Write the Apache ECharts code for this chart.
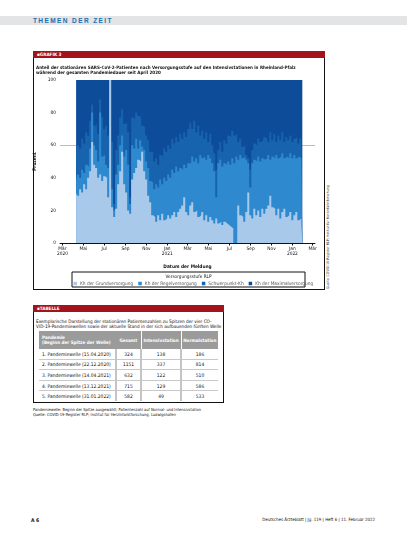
<!DOCTYPE html>
<html>
<head>
<meta charset="utf-8">
<script src="https://cdn.jsdelivr.net/npm/echarts@6/dist/echarts.min.js"></script>
<style>
  html, body { margin: 0; padding: 0; background: #fff; }
  body { width: 407px; height: 551px; position: relative; overflow: hidden;
         font-family: "Liberation Sans Narrow", "DejaVu Sans Condensed", "Liberation Sans", sans-serif; color: #111; }
  .abs { position: absolute; }
  #head { left: 0; top: 16px; width: 407px; height: 9px; background: #e3e4e6; }
  #head span { position: absolute; left: 33px; top: 0; line-height: 9px; font-size: 6.5px; font-weight: bold;
               color: #1d6fae; letter-spacing: 1.4px; font-family: "Liberation Sans", sans-serif; }
  .box { border: 1.2px solid #111; box-sizing: border-box; }
  .bar { position: absolute; left: -1px; top: -1px; right: -1px; height: 7px; background: #a3131b; color: #fff;
         font-size: 4.6px; font-weight: bold; line-height: 7px; padding-left: 4px; }
  #grafik { left: 33px; top: 51px; width: 292px; height: 239px; }
  #credit { left: 326px; top: 289px; width: 96px; font-size: 3.6px; color: #333; white-space: nowrap;
            transform-origin: 0 0; transform: rotate(-90deg); line-height: 4px; }
  #chart { left: 0; top: 0; width: 407px; height: 551px; z-index: 2; }
  #tabelle { left: 33px; top: 305px; width: 191px; height: 98px; }
  #tdesc { left: 2px; top: 12.5px; font-size: 4.7px; line-height: 5.3px; white-space: nowrap; }
  table { position: absolute; left: 5px; top: 25px; width: 179px; border-collapse: collapse; table-layout: fixed;
          font-size: 4.9px; white-space: nowrap; }
  th { background: #9b9b9b; color: #fff; font-weight: bold; height: 18px; padding: 0; text-align: center;
       font-size: 4.6px; overflow: hidden; }
  th.first { text-align: left; padding-left: 3px; line-height: 5px; }
  th.sep { border-left: 1.5px solid #fff; }
  td { height: 9.6px; padding: 0; text-align: center; border-bottom: 1px solid #c9c9c9; overflow: hidden; }
  td.first { text-align: left; padding-left: 3px; }
  td.sep { border-left: 2px solid #c4c4c4; }
  tr:last-child td { border-bottom: none; }
  .note { left: 33px; font-size: 4px; white-space: nowrap; }
  .foot { top: 517px; font-size: 5px; font-weight: bold; white-space: nowrap; }
</style>
</head>
<body>
<div id="head" class="abs"><span>THEMEN DER ZEIT</span></div>
<div id="grafik" class="abs box"><div class="bar">&#9642;GRAFIK 3</div></div>
<div id="credit" class="abs">Quelle: COVID-19-Register RLP; Institut für Herzinfarktforschung</div>
<div id="tabelle" class="abs box">
  <div class="bar">&#9642;TABELLE</div>
  <div id="tdesc" class="abs">Exemplarische Darstellung der stationären Patientenzahlen zu Spitzen der vier CO-<br>VID-19-Pandemiewellen sowie der aktuelle Stand in der sich aufbauenden fünften Welle</div>
  <table id="tab"></table>
</div>
<div class="abs note" style="top:406.5px">Pandemiewelle: Beginn der Spitze ausgewählt; Patientenzahl auf Normal- und Intensivstation</div>
<div class="abs note" style="top:411.5px">Quelle: COVID-19-Register RLP; Institut für Herzinfarktforschung, Ludwigshafen</div>
<div class="abs foot" style="left:31px">A 6</div>
<div class="abs foot" style="right:32px; font-weight:normal; font-size:4.4px">Deutsches Ärzteblatt | Jg. 119 | Heft 6 | 11. Februar 2022</div>
<div id="chart" class="abs"></div>
<script>
// Meldezeitraum (gleichmäßig verteilte Stichtage)
const firstDay = '2020-04-10';
const lastDay = '2022-01-30';

// obere Grenze der Bänder in Prozent (kumuliert von unten)
const grundTop = [
  31, 29, 33, 31, 36, 33, 40, 44, 62, 48, 46, 40, 42, 38, 41, 40, 28, 100, 22, 16,
  21, 36, 44, 56, 36, 31, 20, 18, 39, 43, 46, 51, 50, 56, 44, 39, 29, 25, 17, 16,
  13, 17, 14, 18, 14, 15, 17, 15, 17, 19, 16, 19, 21, 23, 28, 19, 17,
  23, 25, 19, 20, 16, 17, 19, 14, 17, 13, 16, 14, 12, 15, 12, 13, 11, 13, 12, 11,
  10, 9, 0, 0, 23, 17, 16, 13, 19, 31, 17, 15, 21, 17, 20, 16, 21, 18, 21, 23,
  29, 22, 21, 17, 21, 15, 19, 21, 16, 17, 19, 14, 17, 19, 14, 15, 12
];
const regelTop = [
  38, 42, 40, 45, 43, 48, 47, 58, 80, 60, 57, 50, 80, 53, 54, 48, 46, 100, 33, 20,
  42, 48, 60, 66, 53, 57, 48, 24, 60, 58, 64, 58, 63, 59, 57, 50, 46, 38, 37, 33,
  36, 34, 39, 36, 40, 38, 42, 40, 45, 43, 47, 44, 46, 45, 48, 46, 49,
  49, 53, 50, 52, 49, 54, 52, 53, 51, 54, 52, 49, 44, 28, 49, 51, 47, 49, 48, 50,
  48, 52, 49, 53, 51, 54, 52, 53, 51, 49, 34, 49, 51, 50, 53, 50, 52, 51, 52, 54,
  51, 53, 52, 54, 52, 53, 55, 52, 53, 52, 55, 52, 54, 52, 53, 52, 54
];
const schwerpunktTop = [
  55, 60, 58, 64, 61, 68, 66, 75, 85, 72, 73, 67, 88, 77, 70, 72, 66, 100, 62, 24,
  57, 66, 77, 82, 73, 74, 68, 28, 77, 76, 80, 78, 77, 72, 71, 66, 63, 56, 56, 50,
  52, 48, 54, 53, 58, 56, 60, 58, 64, 61, 65, 62, 67, 64, 68, 65, 70,
  74, 70, 75, 68, 72, 66, 69, 64, 68, 62, 67, 60, 55, 45, 57, 62, 56, 63, 61, 66,
  65, 69, 66, 67, 62, 64, 59, 60, 54, 52, 45, 57, 61, 60, 64, 62, 63, 65, 64, 62,
  68, 63, 67, 62, 66, 63, 68, 62, 65, 63, 66, 62, 64, 65, 61, 64, 63
];

const tickDays = ['2020-03-01', '2020-05-01', '2020-07-01', '2020-09-01', '2020-11-01', '2021-01-01',
  '2021-03-01', '2021-05-01', '2021-07-01', '2021-09-01', '2021-11-01', '2022-01-01', '2022-03-01'];
const monthNames = ['Jan', 'Feb', 'Mär', 'Apr', 'Mai', 'Jun', 'Jul', 'Aug', 'Sep', 'Okt', 'Nov', 'Dez'];

const legendNames = ['Kh der Grundversorgung', 'Kh der Regelversorgung', 'Schwerpunkt-Kh', 'Kh der Maximalversorgung'];
const bandColors = ['#a9c9ea', '#2f89cf', '#1763ae', '#0c4c98'];

// Tabelle
const waveNames = ['1. Pandemiewelle (15.04.2020)', '2. Pandemiewelle (22.12.2020)', '3. Pandemiewelle (14.04.2021)',
  '4. Pandemiewelle (13.12.2021)', '5. Pandemiewelle (31.01.2022)'];
const totalPatients = [324, 1151, 632, 715, 582];
const icuPatients = [138, 337, 122, 129, 49];
const wardPatients = [186, 814, 510, 586, 533];

// x-Achse in Tagen ab 1. März 2020
const DAY = 86400000;
const origin = Date.UTC(2020, 2, 1);
const toDay = s => (new Date(s + 'T00:00:00Z').getTime() - origin) / DAY;

let html = '<colgroup><col style="width:77px"><col style="width:25px"><col style="width:40px"><col style="width:37px"></colgroup>' +
  '<tr><th class="first">Pandemie<br>(Beginn der Spitze der Welle)</th><th>Gesamt</th>' +
  '<th class="sep">Intensivstation</th><th class="sep">Normalstation</th></tr>';
waveNames.forEach((w, i) => {
  html += '<tr><td class="first">' + w + '</td><td class="sep">' + totalPatients[i] +
    '</td><td class="sep">' + icuPatients[i] + '</td><td class="sep">' + wardPatients[i] + '</td></tr>';
});
document.getElementById('tab').innerHTML = html;

const d0 = toDay(firstDay);
const stepDays = (toDay(lastDay) - d0) / (grundTop.length - 1);
const days = grundTop.map((v, i) => d0 + i * stepDays);
const pairs = arr => arr.map((v, i) => [days[i], v]);
const ticks = tickDays.map(toDay);

function band(name, color, data) {
  return {
    name: name,
    type: 'line',
    step: 'middle',
    data: data,
    showSymbol: false,
    symbol: 'none',
    silent: true,
    itemStyle: { color: color },
    lineStyle: { width: 0, color: color },
    areaStyle: { color: color, opacity: 1 }
  };
}

const chart = echarts.init(document.getElementById('chart'), null, { renderer: 'canvas' });
chart.setOption({
  animation: false,
  backgroundColor: 'transparent',
  textStyle: { fontFamily: '"Liberation Sans Narrow", "DejaVu Sans Condensed", sans-serif', color: '#111' },
  title: {
    text: 'Anteil der stationären SARS-CoV-2-Patienten nach Versorgungsstufe auf den Intensivstationen in Rheinland-Pfalz\nwährend der gesamten Pandemiedauer seit April 2020',
    left: 36, top: 65.5, padding: 0,
    textStyle: { fontSize: 4.5, fontWeight: 'bold', lineHeight: 4.7, color: '#111' }
  },
  grid: { left: 60, right: 92, top: 80, height: 163 },
  legend: {
    data: legendNames,
    left: 73.5, top: 281, padding: 0,
    icon: 'rect', itemWidth: 3.5, itemHeight: 3.5, itemGap: 5,
    textStyle: { fontSize: 4.8, padding: [0, 0, 0, -2] },
    selectedMode: false
  },
  graphic: [
    { type: 'rect', shape: { x: 72, y: 272, width: 233, height: 15 }, style: { fill: 'none', stroke: '#111', lineWidth: 1 } },
    { type: 'text', x: 188.5, y: 274.3, style: { text: 'Versorgungsstufe RLP', fontSize: 4.7, align: 'center',
      fill: '#111', fontFamily: '"Liberation Sans Narrow", "DejaVu Sans Condensed", sans-serif' } }
  ],
  xAxis: {
    type: 'value',
    min: toDay('2020-02-23'),
    max: toDay('2022-03-08'),
    name: 'Datum der Meldung',
    nameLocation: 'middle',
    nameGap: 21,
    nameTextStyle: { fontSize: 4.8, fontWeight: 'bold' },
    axisLine: { lineStyle: { color: '#111', width: 1 } },
    axisTick: { customValues: ticks, length: 2.5, lineStyle: { color: '#111' } },
    axisLabel: {
      customValues: ticks,
      fontSize: 4.8, lineHeight: 5.2, margin: 3, color: '#111',
      formatter: function (v) {
        const d = new Date(origin + v * DAY);
        const m = d.getUTCMonth();
        const name = monthNames[m];
        return (m === 0 || v === ticks[0]) ? name + '\n' + d.getUTCFullYear() : name;
      }
    },
    splitLine: { show: false }
  },
  yAxis: {
    type: 'value', min: 0, max: 100, interval: 20,
    name: 'Prozent', nameLocation: 'middle', nameGap: 12,
    nameTextStyle: { fontSize: 4.8, fontWeight: 'bold' },
    axisLine: { show: false },
    axisTick: { show: false },
    axisLabel: { fontSize: 4.8, margin: 4, color: '#111' },
    // nur die 60-%-Linie ist sichtbar
    splitLine: { show: true, lineStyle: { width: 1,
      color: ['rgba(0,0,0,0)', 'rgba(0,0,0,0)', 'rgba(0,0,0,0)', '#bcbcbc', 'rgba(0,0,0,0)', 'rgba(0,0,0,0)'] } }
  },
  series: [
    band(legendNames[3], bandColors[3], days.map(d => [d, 100])),
    band(legendNames[2], bandColors[2], pairs(schwerpunktTop)),
    band(legendNames[1], bandColors[1], pairs(regelTop)),
    band(legendNames[0], bandColors[0], pairs(grundTop))
  ]
});
</script>
</body>
</html>
